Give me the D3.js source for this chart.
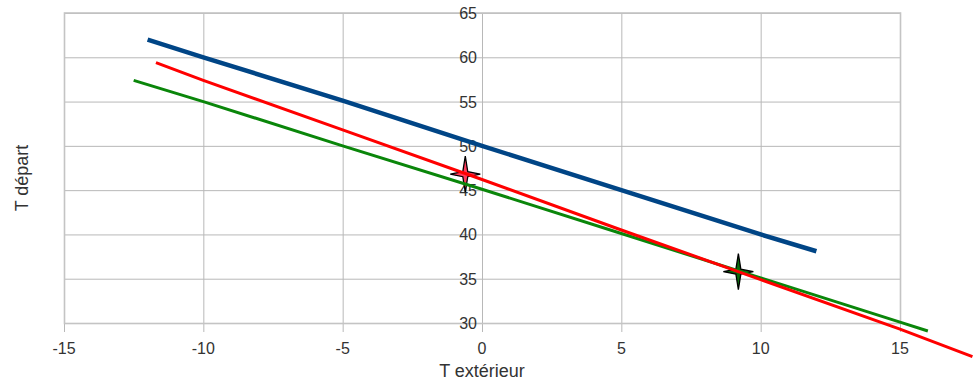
<!DOCTYPE html>
<html>
<head>
<meta charset="utf-8">
<script src="https://cdn.jsdelivr.net/npm/d3@7"></script>
<style>
  body { margin: 0; background: #fff; }
  svg { display: block; }
  .tick-label { font-family: "Liberation Sans", Arial, sans-serif; font-size: 16px; fill: #333; }
  .title { font-family: "Liberation Sans", Arial, sans-serif; font-size: 18px; fill: #333; }
  .grid line { stroke: #b8b8b8; stroke-width: 1; }
</style>
</head>
<body>
<svg width="979" height="381"></svg>
<script>
// axis ticks
var xTicks = [-15, -10, -5, 0, 5, 10, 15];
var yTicks = [30, 35, 40, 45, 50, 55, 60, 65];

// series (T extérieur -> T départ)
var blueX = [-12, -10, -5, 0, 5, 10, 12];
var blueY = [62, 60, 55.1, 50, 45, 40, 38.1];

var redX = [-11.7, -10, -5, 0, 5, 10, 15, 17.6];
var redY = [59.4, 57.4, 51.8, 46.2, 40.5, 34.9, 29.3, 26.2];

var greenX = [-12.5, -10, -5, 0, 5, 10, 15, 16];
var greenY = [57.4, 55, 50, 45.1, 40.1, 35.1, 30.1, 29.1];

// two marked points
var markX = [-0.6, 9.2];
var markY = [46.8, 35.8];
var markFill = ["#ff3b5c", "#0b6b0b"];

var pArea = [64, 13, 900, 323];

var xScale = d3.scaleLinear().domain([-15, 15]).range([pArea[0], pArea[2]]);
var yScale = d3.scaleLinear().domain([30, 65]).range([pArea[3], pArea[1]]);

var svg = d3.select("svg");
var g = svg.append("g");

// grid
var grid = g.append("g").attr("class", "grid");
grid.selectAll(".vx")
  .data(xTicks)
  .enter().append("line")
  .attr("x1", d => xScale(d) + 0.5).attr("x2", d => xScale(d) + 0.5)
  .attr("y1", pArea[1]).attr("y2", pArea[3] + 9);
grid.selectAll(".hy")
  .data(yTicks)
  .enter().append("line")
  .attr("x1", pArea[0]).attr("x2", pArea[2])
  .attr("y1", d => yScale(d) + 0.5).attr("y2", d => yScale(d) + 0.5);

g.append("rect")
  .attr("x", pArea[0] + 0.5).attr("y", pArea[1])
  .attr("width", pArea[2] - pArea[0]).attr("height", pArea[3] - pArea[1] + 0.5)
  .attr("fill", "none").attr("stroke", "#c4c4c4").attr("stroke-width", 1.6);

// x tick labels
g.selectAll(".xl")
  .data(xTicks)
  .enter().append("text")
  .attr("class", "tick-label")
  .attr("x", d => xScale(d))
  .attr("y", 354)
  .attr("text-anchor", "middle")
  .text(d => d);

// y tick labels, sitting on the x = 0 line
g.selectAll(".yl")
  .data(yTicks)
  .enter().append("text")
  .attr("class", "tick-label")
  .attr("x", xScale(0) - 5)
  .attr("y", d => yScale(d) + 6)
  .attr("text-anchor", "end")
  .text(d => d);

// axis titles
g.append("text")
  .attr("class", "title")
  .attr("x", xScale(0))
  .attr("y", 377)
  .attr("text-anchor", "middle")
  .text("T extérieur");

g.append("text")
  .attr("class", "title")
  .attr("transform", "rotate(-90)")
  .attr("x", -178)
  .attr("y", 28)
  .attr("text-anchor", "middle")
  .text("T départ");

// 4-point star markers (under the lines)
function star(rx, ry, ri) {
  var pts = [];
  for (var i = 0; i < 8; i++) {
    var a = i * Math.PI / 4;
    var rX = i % 2 ? ri : rx, rY = i % 2 ? ri : ry;
    pts.push([Math.sin(a) * rX, -Math.cos(a) * rY]);
  }
  return d3.line()(pts) + "Z";
}
g.selectAll(".mark")
  .data(markX.map((x, i) => [x, markY[i], markFill[i]]))
  .enter().append("path")
  .attr("d", star(15, 18, 3.5))
  .attr("transform", d => `translate(${xScale(d[0])},${yScale(d[1])})`)
  .attr("fill", d => d[2])
  .attr("stroke", "#000")
  .attr("stroke-width", 1.3);

// lines
var line = d3.line()
  .x(d => xScale(d[0]))
  .y(d => yScale(d[1]));

function addSeries(xs, ys, color, w) {
  g.append("path")
    .datum(xs.map((x, i) => [x, ys[i]]))
    .attr("fill", "none")
    .attr("stroke", color)
    .attr("stroke-width", w)
    .attr("stroke-linejoin", "round")
    .attr("d", line);
}

addSeries(greenX, greenY, "#0a860a", 3);
addSeries(redX, redY, "#ff0000", 3);
addSeries(blueX, blueY, "#004586", 4.5);
</script>
</body>
</html>
